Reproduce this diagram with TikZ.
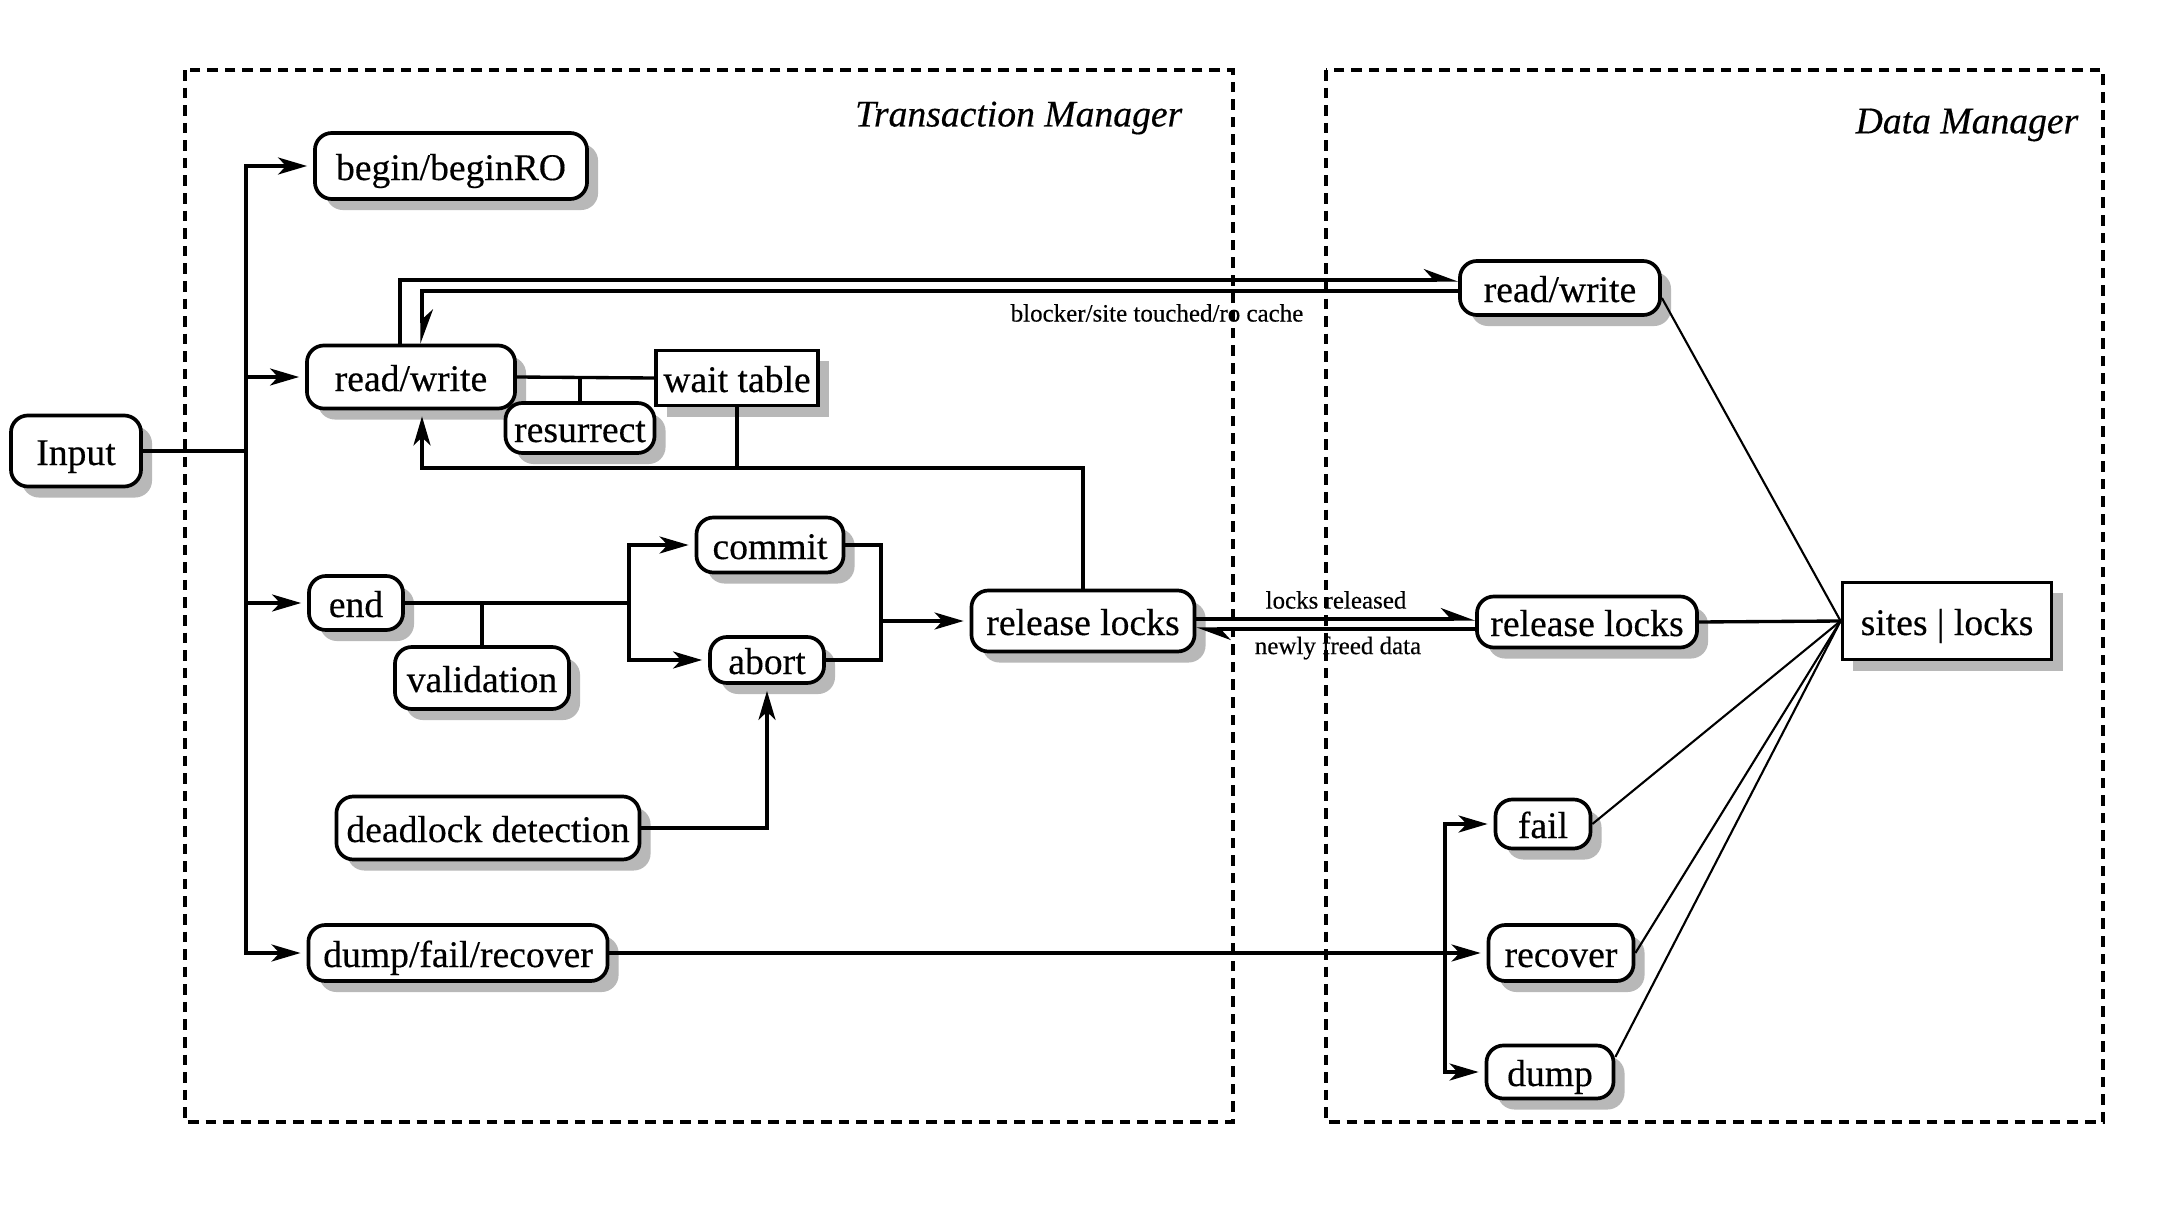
\documentclass[tikz,border=0pt]{standalone}
\usepackage{fontspec}
\setmainfont{Liberation Serif}[FakeBold=0.35]
\usetikzlibrary{arrows.meta,shadows,calc}
\begin{document}
\begin{tikzpicture}[x=0.01cm,y=-0.01cm,
  shad/.style={drop shadow={shadow xshift=0.11cm, shadow yshift=-0.11cm, fill=black!28, opacity=1}},
  rbox/.style={draw, line width=1.05pt, rounded corners=0.17cm, fill=white, inner sep=0pt,
    text height=0.31cm, text depth=0.03cm,
    font=\fontsize{10.7}{12}\selectfont, shad},
  sbox/.style={draw, line width=1.05pt, fill=white, inner sep=0pt,
    text height=0.31cm, text depth=0.03cm,
    font=\fontsize{10.7}{12}\selectfont, shad},
  conn/.style={line width=0.95pt},
  arr/.style={conn, -{Stealth[length=0.29cm,width=0.17cm,inset=0.08cm]}, shorten >=0.06cm},
  harp/.style={line width=0.9pt, -{Stealth[harpoon,length=0.3cm,width=0.22cm,inset=0.1cm]}},
  thinl/.style={line width=0.6pt},
  frame/.style={line width=0.95pt, dash pattern=on 3pt off 2pt},
  lab/.style={inner sep=0pt, font=\fontsize{7.1}{8}\selectfont},
  ttl/.style={inner sep=0pt, anchor=east, font=\fontsize{10.7}{12}\selectfont\itshape}]
\useasboundingbox (0,0) rectangle (2162,1212);
\fill[white] (0,0) rectangle (2162,1212);

% frames
\draw[frame] (185,70) rectangle (1233,1122);
\draw[frame] (1326,70) rectangle (2103,1122);
\node[ttl] (tmT) at (1183,118) {Transaction Manager};
\node[ttl] (dmT) at (2079,125) {Data Manager};

% nodes (transaction manager)
\node[rbox, minimum width=1.30cm, minimum height=0.71cm] (input) at (76,451) {Input};
\node[rbox, minimum width=2.72cm, minimum height=0.66cm] (begin) at (451,166) {begin/beginRO};
\node[rbox, minimum width=2.08cm, minimum height=0.63cm] (rw) at (411,377) {read/write};
\node[sbox, minimum width=1.62cm, minimum height=0.55cm] (wait) at (737,378) {wait table};
\node[rbox, minimum width=1.49cm, minimum height=0.50cm] (res) at (580,428) {resurrect};
\node[rbox, minimum width=0.94cm, minimum height=0.54cm] (end) at (356,603) {end};
\node[rbox, minimum width=1.74cm, minimum height=0.62cm] (val) at (482,678) {validation};
\node[rbox, minimum width=1.47cm, minimum height=0.55cm] (commit) at (770,545) {commit};
\node[rbox, minimum width=1.14cm, minimum height=0.46cm] (abort) at (767,660) {abort};
\node[rbox, minimum width=2.23cm, minimum height=0.61cm] (relT) at (1083,621) {release locks};
\node[rbox, minimum width=3.03cm, minimum height=0.63cm] (dead) at (488,828) {deadlock detection};
\node[rbox, minimum width=2.99cm, minimum height=0.56cm] (dfr) at (458,953) {dump/fail/recover};

% nodes (data manager)
\node[rbox, minimum width=2.00cm, minimum height=0.54cm] (rwD) at (1560,288) {read/write};
\node[rbox, minimum width=2.20cm, minimum height=0.51cm] (relD) at (1587,622) {release locks};
\node[sbox, minimum width=2.09cm, minimum height=0.77cm] (sites) at (1947,621) {sites | locks};
\node[rbox, minimum width=0.95cm, minimum height=0.49cm] (fail) at (1543,824) {fail};
\node[rbox, minimum width=1.45cm, minimum height=0.56cm] (rec) at (1561,953) {recover};
\node[rbox, minimum width=1.27cm, minimum height=0.53cm] (dump) at (1550,1072) {dump};

% input trunk
\coordinate (tr) at (246,451);
\draw[conn] (input.east) -- (tr);
\draw[arr] (tr) -- (tr |- begin.west) -- (begin.west);
\draw[arr] (tr) -- (tr |- dfr.west) -- (dfr.west);
\draw[arr] (tr |- rw.west) -- (rw.west);
\draw[arr] (tr |- end.west) -- (end.west);

% read/write cluster
\draw[conn] (rw.east) -- (wait.west);
\draw[conn] (res.north) -- (res.north |- rw.east);
\coordinate (fb) at (422,468);
\draw[arr] (relT.north) -- (relT.north |- fb) -- (fb) -- (fb |- rw.south);
\draw[conn] (wait.south) -- (wait.south |- fb);

% read/write to data manager
\coordinate (o1) at (400,280);
\coordinate (i1) at (422,291);
\draw[harp] (o1 |- rw.north) -- (o1) -- (o1 -| rwD.west);
\draw[harp] (i1 -| rwD.west) -- (i1) -- (i1 |- rw.north);
\node[lab] (lb1) at (1157,313) {blocker/site touched/ro cache};

% end cluster
\coordinate (eb) at (629,603);
\draw[conn] (end.east) -- (eb);
\draw[conn] (val.north) -- (val.north |- eb);
\draw[arr] (eb) -- (eb |- commit.west) -- (commit.west);
\draw[arr] (eb) -- (eb |- abort.west) -- (abort.west);
\coordinate (cb) at (881,617);
\draw[conn] (commit.east) -- (commit.east -| cb) -- (abort.east -| cb) -- (abort.east);
\draw[arr] (cb |- relT.west) -- (relT.west);
\draw[arr] (dead.east) -- (dead.east -| abort.south) -- (abort.south);

% release locks exchange
\draw[harp] ([yshift=0.02cm]relT.east) -- ([yshift=0.02cm]relT.east -| relD.west);
\draw[harp] ([yshift=-0.07cm]relD.west) -- ([yshift=-0.07cm]relD.west -| relT.east);
\node[lab] (lb2) at (1336,600) {locks released};
\node[lab] (lb3) at (1338,648) {newly freed data};
\draw[conn] (relD.east) -- (sites.west);

% data manager links
\draw[thinl] ([yshift=-0.1cm]rwD.east) -- (sites.west);
\draw[thinl] (fail.east) -- (sites.west);
\draw[thinl] (rec.east) -- (sites.west);
\draw[thinl] ([yshift=0.15cm]dump.east) -- (sites.west);

% dump/fail/recover branch
\coordinate (db) at (1445,953);
\draw[arr] (dfr.east) -- (rec.west);
\draw[arr] (db) -- (db |- fail.west) -- (fail.west);
\draw[arr] (db) -- (db |- dump.west) -- (dump.west);
\end{tikzpicture}
\end{document}
